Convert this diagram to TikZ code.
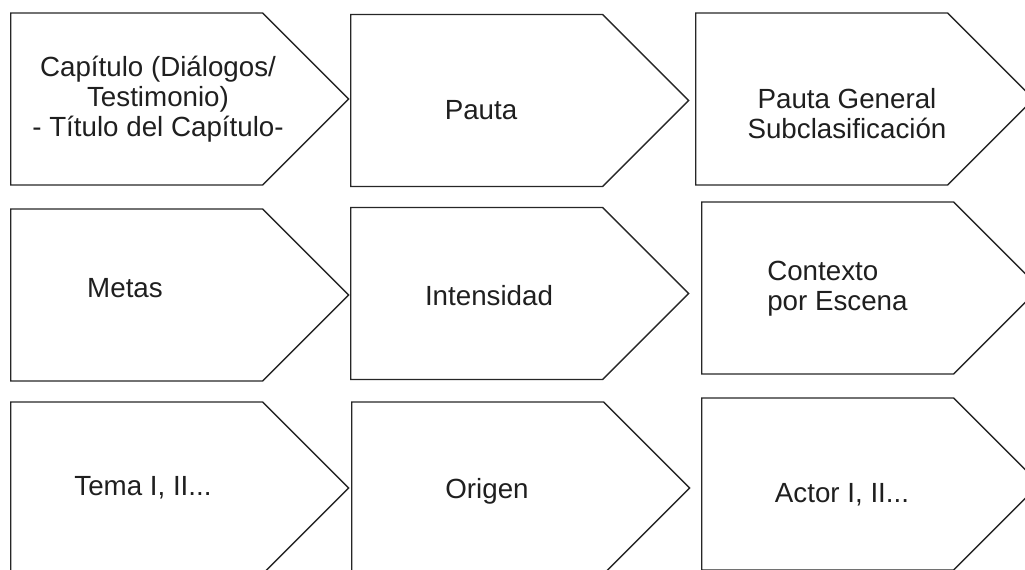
\documentclass[tikz,border=0pt]{standalone}
\usepackage{fontspec}
\setmainfont{Liberation Sans}
\usetikzlibrary{shapes.symbols}

\begin{document}
\begin{tikzpicture}[x=0.75pt,y=-0.75pt,
    etapa/.style={signal,signal to=east,signal pointer angle=90,draw=black!85,line width=1pt,
      minimum width=253.5pt,minimum height=129pt,inner sep=0pt,anchor=west},
    rotulo/.style={inner sep=0pt,font=\fontsize{20.8}{22.5}\selectfont,text=black!88}]
  \useasboundingbox (0,0) rectangle (1025,569);
  % primera fila
  \node[etapa](cap) at (10,99){};
  \node[etapa](pauta) at (350,100.5){};
  \node[etapa](general) at (695,99){};
  % segunda fila
  \node[etapa](metas) at (10,295){};
  \node[etapa](intens) at (350,293.5){};
  \node[etapa](contexto) at (701,288){};
  % tercera fila
  \node[etapa](tema) at (10,488){};
  \node[etapa](origen) at (351,488){};
  \node[etapa](actor) at (701,484){};
  % textos
  \node[rotulo,align=center](t-cap) at (158,99.5){Capítulo (Diálogos/\\Testimonio)\\- Título del Capítulo-};
  \node[rotulo,anchor=base](t-pauta) at (481,119){Pauta};
  \node[rotulo,align=center](t-general) at (847,113.5){Pauta General\\Subclasificación};
  \node[rotulo,anchor=base](t-metas) at (125,297){Metas};
  \node[rotulo,anchor=base](t-intens) at (489,305){Intensidad};
  \node[rotulo,align=left,anchor=west](t-contexto) at (767,289){Contexto\\por Escena};
  \node[rotulo,anchor=base](t-tema) at (143,495){Tema I, II...};
  \node[rotulo,anchor=base](t-origen) at (487,498){Origen};
  \node[rotulo,anchor=base](t-actor) at (842,502){Actor I, II...};
\end{tikzpicture}
\end{document}
